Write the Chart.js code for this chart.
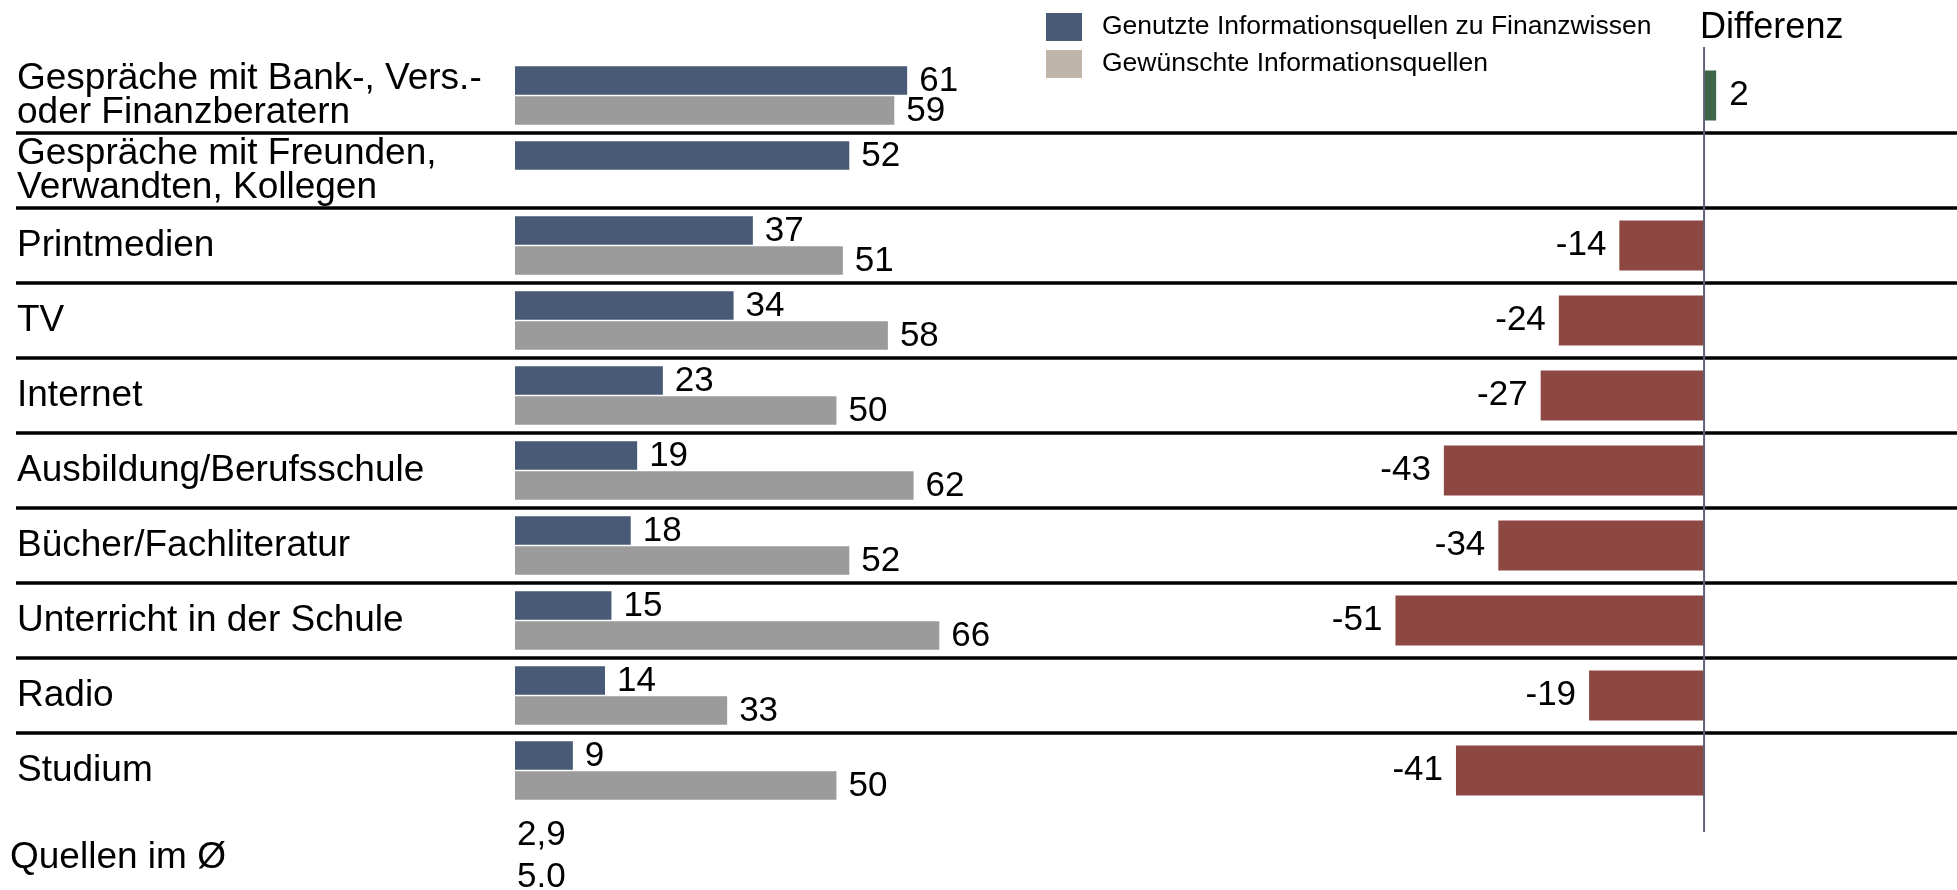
<!DOCTYPE html>
<html>
<head>
<meta charset="utf-8">
<script src="https://cdn.jsdelivr.net/npm/chart.js@4.4.1/dist/chart.umd.min.js"></script>
<style>
    html, body { margin: 0; padding: 0; background: #fff; }
    #wrap { width: 1957px; height: 890px; position: relative; }
</style>
</head>
<body>
<div id="wrap"><canvas id="sourcesChart"></canvas></div>
<script>
const categories = [
    ['Gespräche mit Bank-, Vers.-', 'oder Finanzberatern'],
    ['Gespräche mit Freunden,', 'Verwandten, Kollegen'],
    'Printmedien',
    'TV',
    'Internet',
    'Ausbildung/Berufsschule',
    'Bücher/Fachliteratur',
    'Unterricht in der Schule',
    'Radio',
    'Studium',
    'Quellen im Ø',
];
const usedSources = [61, 52, 37, 34, 23, 19, 18, 15, 14, 9];
const wishedSources = [59, null, 51, 58, 50, 62, 52, 66, 33, 50];
const difference = [2, null, -14, -24, -27, -43, -34, -51, -19, -41];
const averageLabels = ['2,9', '5.0'];

const seriesNames = ['Genutzte Informationsquellen zu Finanzwissen', 'Gewünschte Informationsquellen'];
const legendColors = ['#485a75', '#c0b5a9'];
const FONT = '"Liberation Sans", Arial, sans-serif';

const overlayPlugin = {
    id: 'overlay',
    beforeDatasetsDraw(chart) {
        const { ctx, scales } = chart;
        const y = scales.y;
        ctx.save();
        // row separators
        ctx.strokeStyle = '#000';
        ctx.lineWidth = 3.5;
        for (let i = 0; i < 9; i++) {
            const yy = (y.getPixelForValue(i) + y.getPixelForValue(i + 1)) / 2;
            ctx.beginPath();
            ctx.moveTo(16, yy);
            ctx.lineTo(chart.width, yy);
            ctx.stroke();
        }
        ctx.restore();
    },
    afterDatasetsDraw(chart) {
        const { ctx, scales } = chart;
        const y = scales.y;
        ctx.save();

        // zero line of the difference axis
        const x0 = scales.x2.getPixelForValue(0);
        ctx.strokeStyle = '#5d6275';
        ctx.lineWidth = 2;
        ctx.beginPath();
        ctx.moveTo(x0, 47);
        ctx.lineTo(x0, 832);
        ctx.stroke();

        ctx.fillStyle = '#000';
        ctx.textBaseline = 'middle';

        // category labels
        ctx.font = '37px ' + FONT;
        ctx.textAlign = 'left';
        for (let i = 0; i < 10; i++) {
            const lines = Array.isArray(categories[i]) ? categories[i] : [categories[i]];
            const cy = y.getPixelForValue(i);
            lines.forEach((line, k) => {
                ctx.fillText(line, 17, cy - (lines.length - 1) * 17 + k * 34);
            });
        }

        // average row
        const rowY = y.getPixelForValue(10);
        ctx.fillText(categories[10], 10, rowY + 12);

        ctx.font = '35px ' + FONT;
        ctx.fillText(averageLabels[0], 517, rowY - 10);
        ctx.fillText(averageLabels[1], 517, rowY + 32);

        // value labels of the left bars
        [0, 1].forEach((di) => {
            const meta = chart.getDatasetMeta(di);
            meta.data.forEach((bar, i) => {
                const v = chart.data.datasets[di].data[i];
                if (v === null) return;
                ctx.textAlign = 'left';
                ctx.fillText(String(v), bar.x + 12, bar.y + 1);
            });
        });

        // difference labels
        const diffMeta = chart.getDatasetMeta(2);
        diffMeta.data.forEach((bar, i) => {
            const v = difference[i];
            if (v === null) return;
            if (v < 0) {
                ctx.textAlign = 'right';
                ctx.fillText(String(v), bar.x - 13, bar.y);
            } else {
                ctx.textAlign = 'left';
                ctx.fillText(String(v), bar.x + 13, bar.y);
            }
        });

        // header
        ctx.textAlign = 'left';
        ctx.font = '36px ' + FONT;
        ctx.fillText('Differenz', 1700, 28);

        // legend
        ctx.font = '26.5px ' + FONT;
        seriesNames.forEach((name, i) => {
            ctx.fillStyle = legendColors[i];
            ctx.fillRect(1046, 13 + i * 37, 36, 28);
            ctx.fillStyle = '#000';
            ctx.fillText(name, 1102, 27 + i * 37);
        });

        ctx.restore();
    }
};

const config = {
    type: 'bar',
    data: {
        labels: categories,
        datasets: [
            {
                label: seriesNames[0],
                data: usedSources,
                backgroundColor: '#485a75',
                xAxisID: 'x',
                categoryPercentage: 0.8,
                barPercentage: 0.95,
            },
            {
                label: seriesNames[1],
                data: wishedSources,
                backgroundColor: '#9b9b9b',
                xAxisID: 'x',
                categoryPercentage: 0.8,
                barPercentage: 0.95,
            },
            {
                label: 'Differenz',
                data: difference,
                backgroundColor: difference.map(v => (v !== null && v > 0) ? '#3f6649' : '#8e4842'),
                xAxisID: 'x2',
                grouped: false,
                categoryPercentage: 1,
                barPercentage: 0.667,
            },
        ],
    },
    options: {
        indexAxis: 'y',
        responsive: true,
        maintainAspectRatio: false,
        animation: false,
        layout: {
            padding: { left: 515, right: 0, top: 58, bottom: 7 },
        },
        plugins: {
            legend: { display: false },
            tooltip: { enabled: false },
        },
        scales: {
            x: {
                display: false,
                min: 0,
                max: 224.3,
            },
            x2: {
                display: false,
                min: -196.5,
                max: 41.8,
            },
            y: {
                display: false,
            },
        },
    },
    plugins: [overlayPlugin],
};

document.addEventListener('DOMContentLoaded', () => {
    const $canvas = document.getElementById('sourcesChart');
    new Chart($canvas, config);
});
</script>
</body>
</html>
